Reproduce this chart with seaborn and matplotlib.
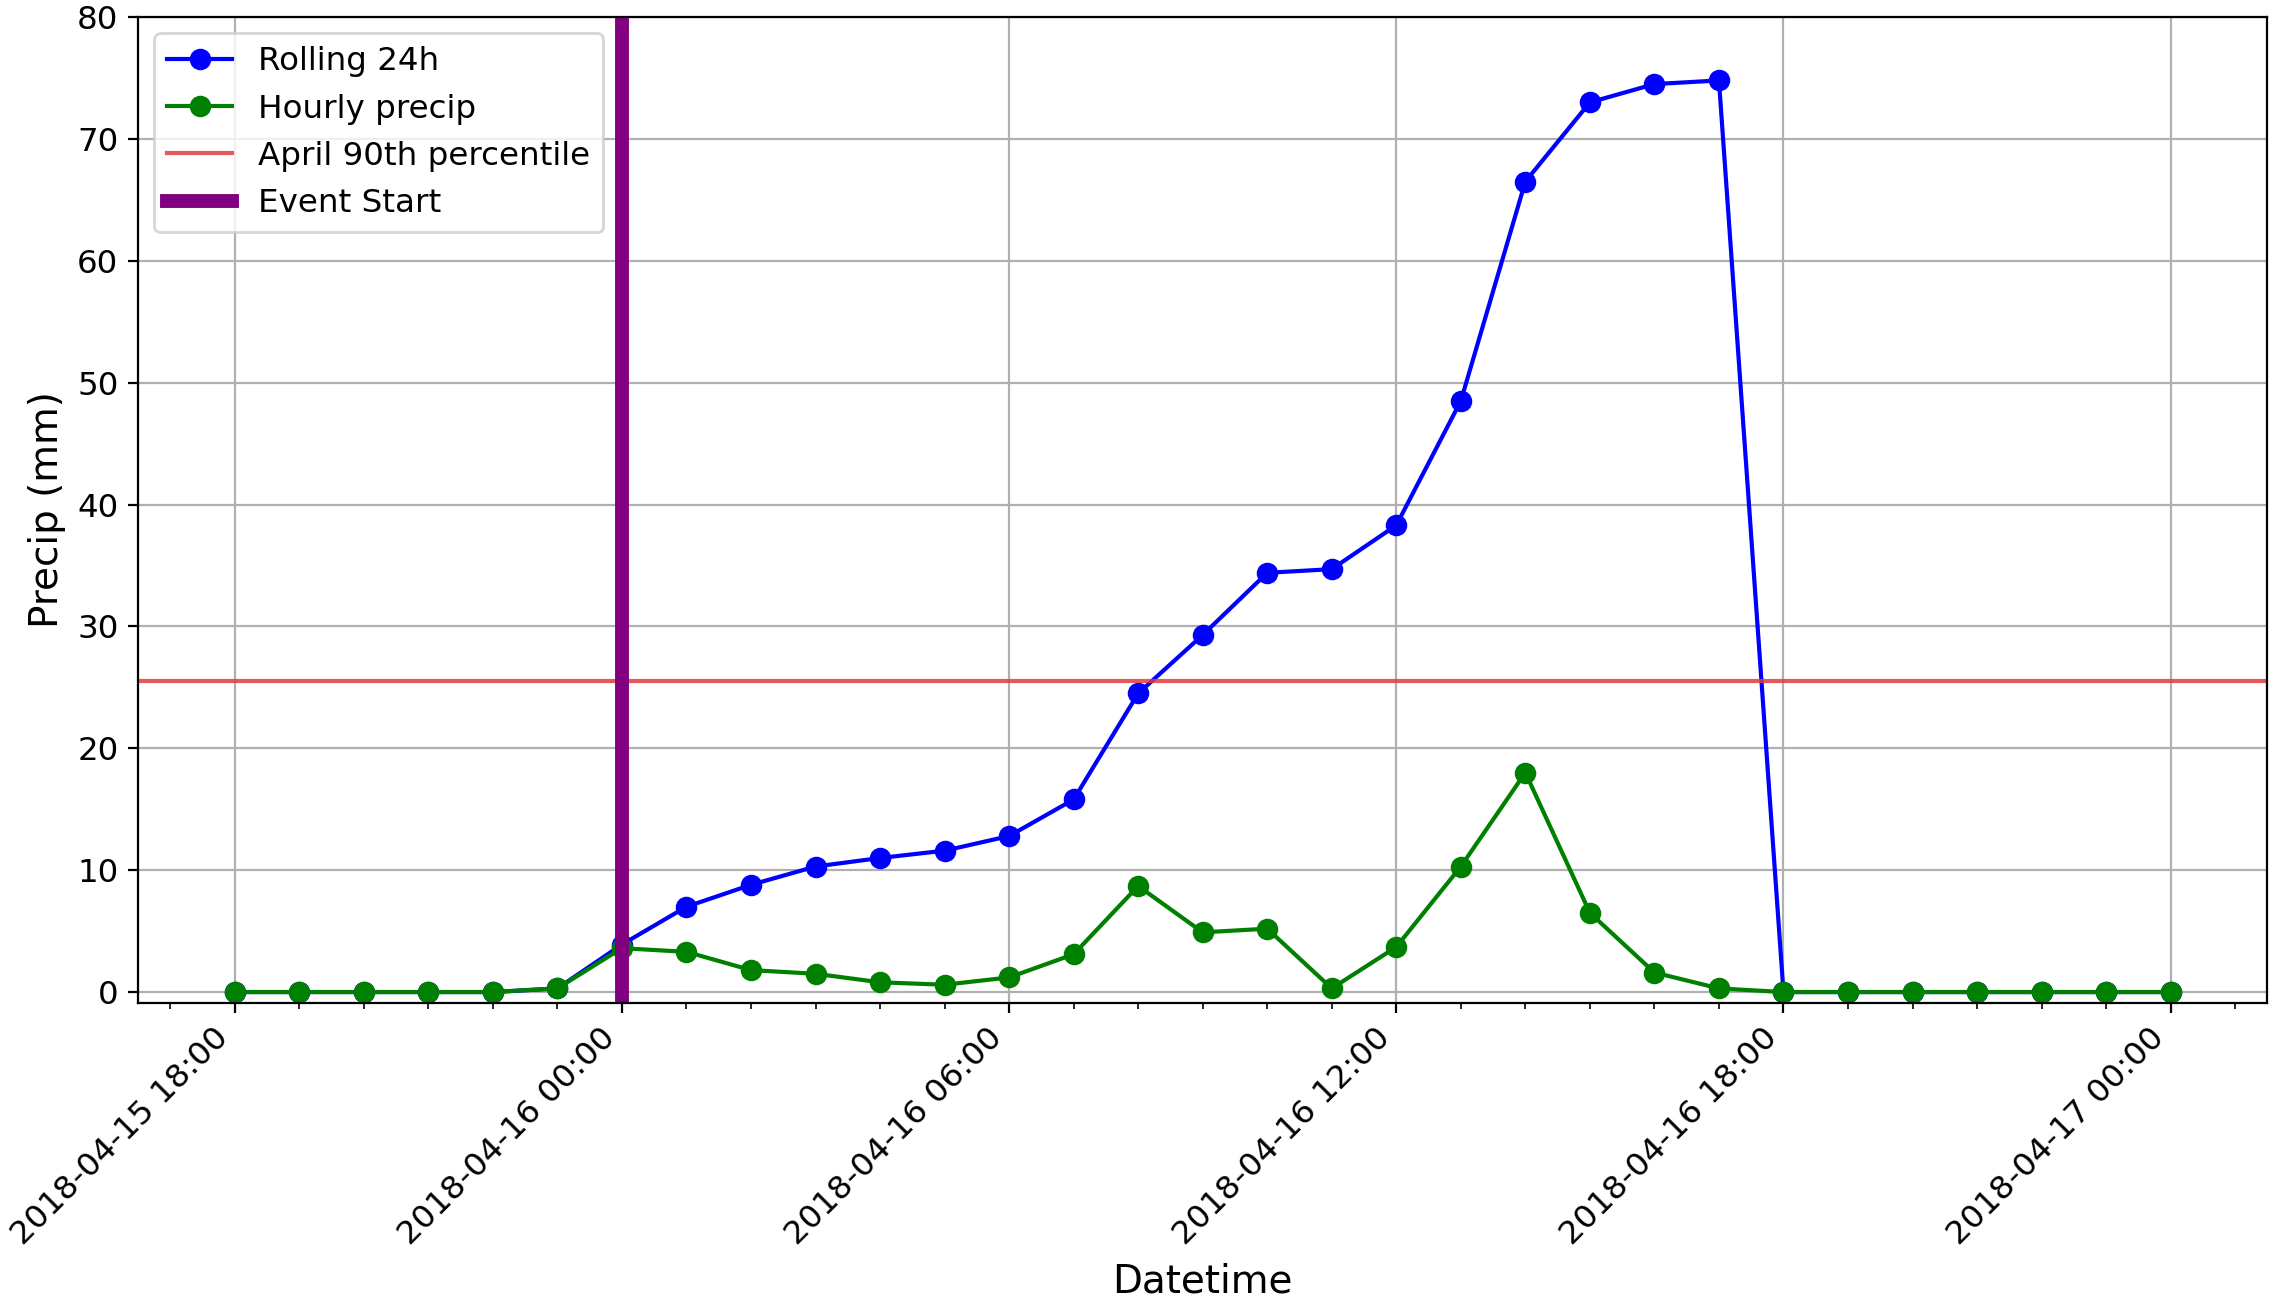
import matplotlib
matplotlib.use("Agg")
import matplotlib.pyplot as plt
import matplotlib.dates as mdates
import numpy as np
import pandas as pd
import seaborn as sns

# Hourly timestamps for the storm window
times = pd.date_range("2018-04-15 18:00", "2018-04-17 00:00", freq="h")

# Rolling 24-hour accumulation (mm)
rolling_24h = [0.0, 0.0, 0.0, 0.0, 0.0, 0.3,
               3.9, 7.0, 8.8, 10.3, 11.0, 11.6,
               12.8, 15.8, 24.5, 29.3, 34.4, 34.7,
               38.3, 48.5, 66.5, 73.0, 74.5, 74.8,
               0.0, 0.0, 0.0, 0.0, 0.0, 0.0, 0.0]

# Hourly precipitation (mm)
hourly_precip = [0.0, 0.0, 0.0, 0.0, 0.0, 0.3,
                 3.6, 3.3, 1.8, 1.5, 0.8, 0.6,
                 1.2, 3.1, 8.7, 4.9, 5.2, 0.3,
                 3.7, 10.3, 18.0, 6.5, 1.6, 0.3,
                 0.0, 0.0, 0.0, 0.0, 0.0, 0.0, 0.0]

april_p90 = 25.5
event_start = pd.Timestamp("2018-04-16 00:00")

df = pd.DataFrame({"Datetime": times,
                   "rolling": rolling_24h,
                   "hourly": hourly_precip})

plt.rcParams["font.family"] = ["DejaVu Sans"]
plt.rcParams["xtick.labelsize"] = 11.7
plt.rcParams["ytick.labelsize"] = 11.7

fig = plt.figure(figsize=(11.4, 6.56), dpi=200)
ax = fig.add_axes([0.0605, 0.2355, 0.934, 0.7515])

sns.lineplot(data=df, x="Datetime", y="rolling", ax=ax, color="blue",
             marker="o", markersize=7, markeredgecolor="blue",
             linewidth=1.5, label="Rolling 24h")
sns.lineplot(data=df, x="Datetime", y="hourly", ax=ax, color="green",
             marker="o", markersize=7, markeredgecolor="green",
             linewidth=1.5, label="Hourly precip")
ax.axhline(april_p90, color="#e03c3c", alpha=0.85, linewidth=1.5,
           label="April 90th percentile")
ax.axvline(event_start, color="purple", linewidth=5, label="Event Start")

ax.set_ylim(-0.9, 80)
ax.set_yticks(np.arange(0, 81, 10))
ax.set_xlim(times[0] - pd.Timedelta(minutes=90),
            times[-1] + pd.Timedelta(minutes=90))

ax.xaxis.set_major_locator(mdates.HourLocator(byhour=[0, 6, 12, 18]))
ax.xaxis.set_minor_locator(mdates.HourLocator())
ax.xaxis.set_major_formatter(mdates.DateFormatter("%Y-%m-%d %H:%M"))
plt.setp(ax.get_xticklabels(), rotation=45, ha="right")

ax.grid(True, which="major", color="#b0b0b0", linewidth=0.8)
ax.set_axisbelow(True)
ax.set_xlabel("Datetime", fontsize=14)
ax.set_ylabel("Precip (mm)", fontsize=14)

ax.legend(loc="upper left", fontsize=11.7)

fig.savefig("out.png", dpi=200)
